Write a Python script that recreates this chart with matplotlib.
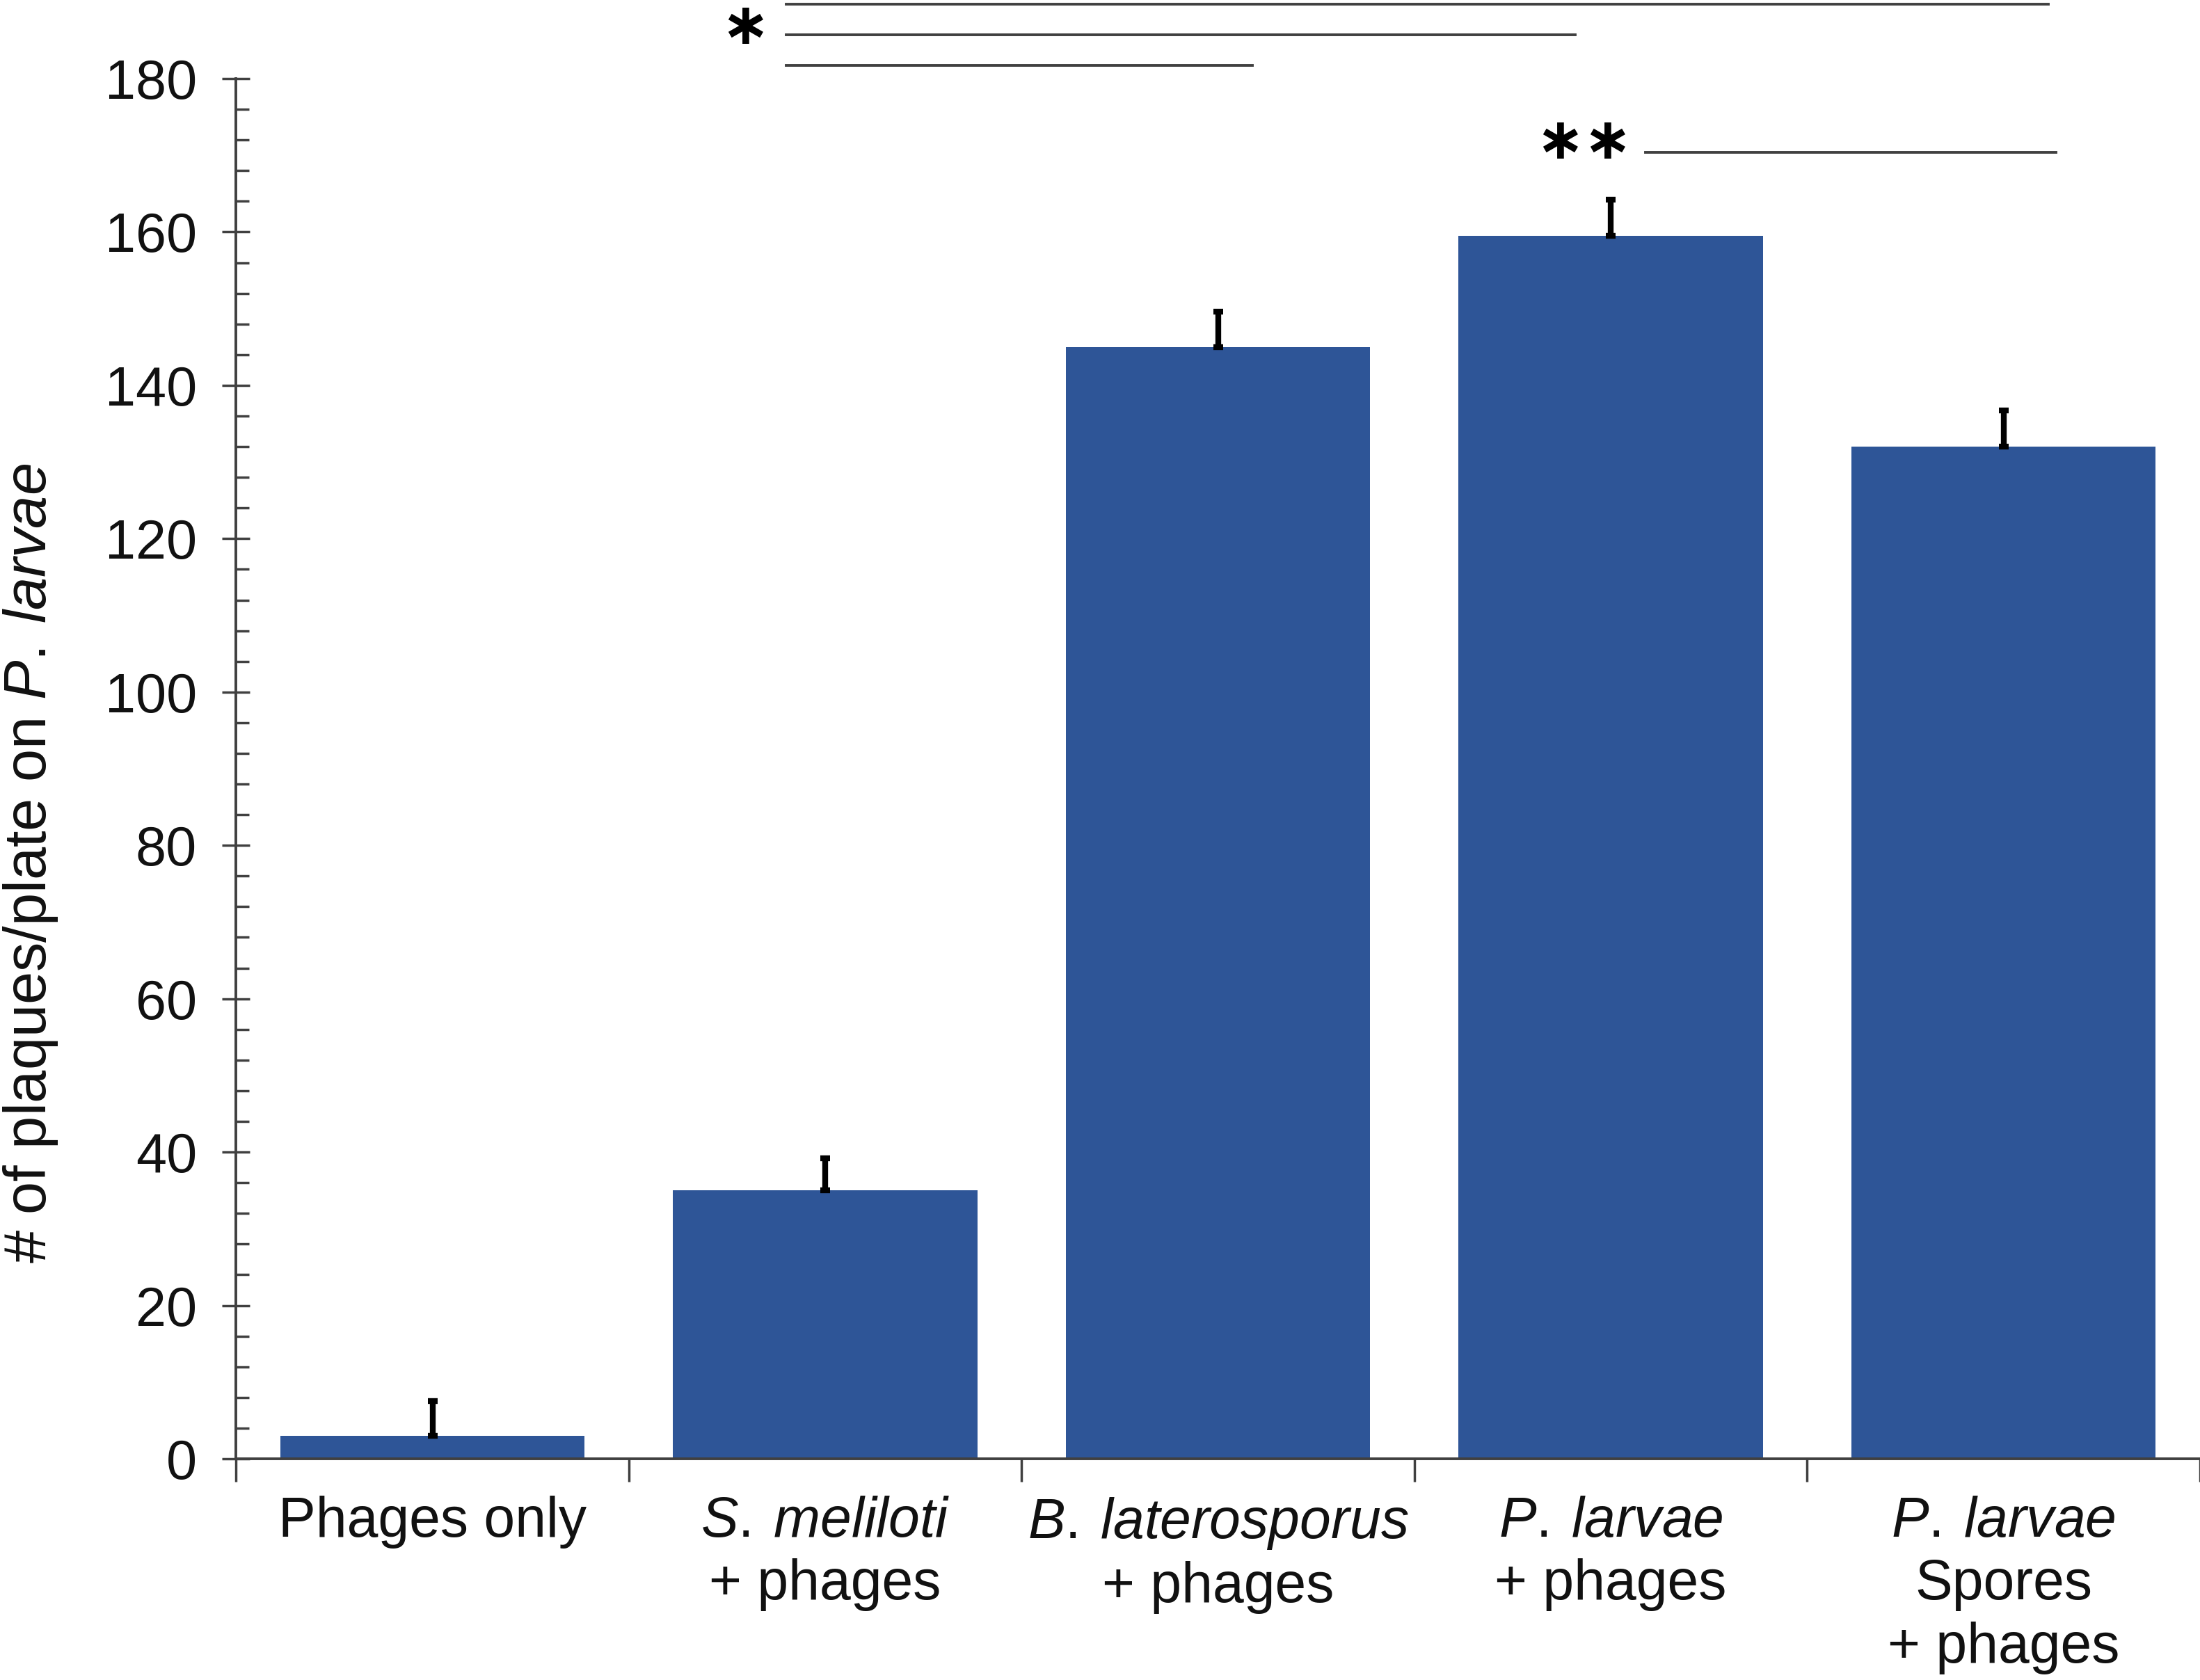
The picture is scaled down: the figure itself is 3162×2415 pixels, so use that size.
import matplotlib
matplotlib.use('Agg')
import matplotlib.pyplot as plt
import numpy as np

plt.rcParams['font.family'] = ['Liberation Sans', 'DejaVu Sans']
plt.rcParams['mathtext.fontset'] = 'custom'
plt.rcParams['mathtext.rm'] = 'Liberation Sans'
plt.rcParams['mathtext.it'] = 'Liberation Sans:italic'

# data
groups = ['Phages only',
          r'$\it{S.\:meliloti}$' + '\n+ phages',
          r'$\it{B.\:laterosporus}$' + '\n+ phages',
          r'$\it{P.\:larvae}$' + '\n+ phages',
          r'$\it{P.\:larvae}$' + '\nSpores\n+ phages']
plaques = [3.0, 35.0, 145.0, 159.5, 132.0]
sem = [4.5, 4.2, 4.6, 4.7, 4.7]

# significance lines (x from, x to, y) and stars (x, y)
sig_lines = [(0.90, 4.113, 189.7), (0.90, 2.910, 185.7), (0.90, 2.088, 181.7),
             (3.088, 4.134, 170.4)]
stars = [(0.797, 186.7), (2.871, 171.7), (2.991, 171.7)]

bar_color = '#2E5597'
axis_color = '#404040'

fig = plt.figure(figsize=(31.62, 24.15), dpi=100)
ax = fig.add_axes([0.1073, 0.1317, 0.8927, 0.8215])

x = np.arange(len(groups))
ax.bar(x, plaques, width=0.775, color=bar_color, zorder=2)
ax.errorbar(x, plaques, yerr=[np.zeros(len(sem)), sem], fmt='none',
            ecolor='black', elinewidth=6, capsize=5, capthick=6, zorder=3)

ax.set_xlim(-0.5, 4.49)
ax.set_ylim(0, 180)

for s in ['top', 'right']:
    ax.spines[s].set_visible(False)
for s in ['left', 'bottom']:
    ax.spines[s].set_color(axis_color)
    ax.spines[s].set_linewidth(2.8)

ax.set_yticks(np.arange(0, 181, 20))
ax.set_yticks(np.arange(0, 181, 4), minor=True)
ax.tick_params(axis='y', which='major', direction='inout', length=29, width=2.5,
               color=axis_color, labelsize=57, pad=26, labelcolor='#111111')
ax.tick_params(axis='y', which='minor', direction='in', length=14, width=2.5,
               color=axis_color)

ax.set_xticks(np.arange(-0.5, 4.6, 1.0))
ax.set_xticklabels([])
ax.set_xticks(x, minor=True)
ax.set_xticklabels(groups, minor=True, fontsize=58, linespacing=1.25)
ax.tick_params(axis='x', which='major', direction='out', length=24, width=2.5,
               color=axis_color)
ax.tick_params(axis='x', which='minor', length=0, pad=38, labelcolor='#111111')

fig.text(0.014, 0.486, r'# of plaques/plate on $\it{P.\:larvae}$', rotation=90,
         fontsize=61, ha='center', va='center', color='#111111')

for x0, x1, yy in sig_lines:
    ax.plot([x0, x1], [yy, yy], color=axis_color, lw=2.8, clip_on=False)
for sx, sy in stars:
    ax.text(sx, sy, '\u2217', fontsize=60, ha='center', va='center',
            family='DejaVu Sans', fontweight='bold', clip_on=False)

plt.savefig('out.png', dpi=100)
